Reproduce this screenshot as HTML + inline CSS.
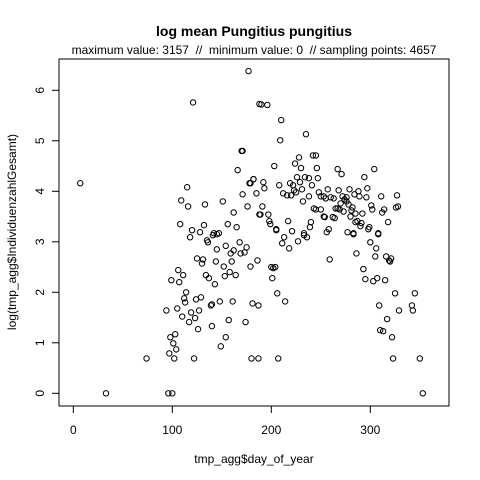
<!DOCTYPE html>
<html><head><meta charset="utf-8"><style>
html,body{margin:0;padding:0;background:#fff;}
svg{display:block;font-family:"Liberation Sans",Arial,sans-serif;}
</style></head><body>
<svg id="chart" width="480" height="480" viewBox="0 0 480 480" xmlns="http://www.w3.org/2000/svg">
<rect width="480" height="480" fill="#fff"/>
<text x="254" y="36" text-anchor="middle" font-size="14" font-weight="bold">log mean Pungitius pungitius</text>
<text x="254" y="54" text-anchor="middle" font-size="12">maximum value: 3157&#160;&#160;//&#160;&#160;minimum value: 0&#160;&#160;// sampling points: 4657</text>
<rect x="59" y="59" width="390" height="347" fill="none" stroke="#000" stroke-width="1"/>
<g id="xaxis"></g>
<g id="yaxis"></g>
<g id="points"></g>
<text x="254" y="463" text-anchor="middle" font-size="12">tmp_agg$day_of_year</text>
<text transform="translate(16,232) rotate(-90)" text-anchor="middle" font-size="12">log(tmp_agg$IndividuenzahlGesamt)</text>
</svg>
<script>
const xTicks = [0, 100, 200, 300];
const yTicks = [0, 1, 2, 3, 4, 5, 6];
const dayValues = [177,121,188,170,171,7,166,182,178,115,171,185,109,116,133,151,162,176,188,108,120,128,132,156,165,142,147,
190,196,210,235,209,242,245,228,224,203,230,246,267,304,271,182,226,234,238,247,294,192,179,229,208,219,222,241,193,231,257,268,279,297,223,225,212,216,220,248,288,284,238,250,253,260,263,255,272,276,274,276,289,296,311,327,232,270,278,191,301,302,243,245,250,265,267,269,273,282,281,314,312,326,328,189,197,285,292,253,254,262,264,280,198,199,217,240,239,285,287,290,291,318,205,221,299,298,258,256,277,283,233,308,
118,141,145,135,136,154,168,175,173,169,145,162,159,125,131,130,144,160,186,152,179,106,111,99,107,134,137,158,153,164,143,114,112,113,124,129,139,140,148,161,181,187,94,105,119,127,110,123,117,157,174,126,140,98,103,101,154,104,149,97,74,102,122,180,187,33,96,100,
205,213,233,236,227,211,218,283,308,300,306,286,305,316,321,319,320,200,202,204,259,201,293,295,303,307,315,206,214,325,345,309,342,329,343,317,310,313,322,207,323,350,353];
const logValues = [6.38,5.76,5.73,4.80,4.80,4.16,4.42,4.24,4.16,4.08,3.94,3.96,3.82,3.70,3.74,3.80,3.58,3.70,3.54,3.35,3.23,3.19,3.33,3.35,3.29,3.17,3.17,
5.72,5.71,5.41,5.13,5.01,4.71,4.71,4.67,4.55,4.50,4.46,4.46,4.44,4.44,4.34,4.24,4.28,4.28,4.26,4.26,4.28,4.18,4.16,4.18,4.12,4.16,4.12,4.12,4.06,4.04,4.04,4.02,4.04,4.06,4.02,3.98,3.96,3.92,3.92,3.98,4.00,3.94,3.90,3.90,3.90,3.88,3.86,3.86,3.90,3.88,3.84,3.80,3.90,3.88,3.90,3.92,3.80,3.76,3.74,3.70,3.72,3.64,3.66,3.64,3.64,3.66,3.66,3.64,3.60,3.68,3.62,3.64,3.58,3.68,3.70,3.54,3.54,3.56,3.56,3.50,3.49,3.49,3.47,3.50,3.41,3.35,3.41,3.39,3.29,3.39,3.41,3.31,3.37,3.39,3.25,3.21,3.29,3.25,3.25,3.19,3.19,3.17,3.17,3.17,
3.09,3.13,3.15,3.03,2.99,2.92,2.99,2.89,2.79,2.77,2.85,2.83,2.77,2.67,2.65,2.57,2.61,2.61,2.63,2.51,2.51,2.44,2.34,2.24,2.20,2.34,2.28,2.40,2.32,2.34,2.16,2.00,1.88,1.80,1.86,1.90,1.74,1.76,1.82,1.82,1.78,1.74,1.64,1.68,1.60,1.64,1.52,1.49,1.41,1.45,1.41,1.27,1.33,1.11,1.17,0.99,1.11,0.87,0.93,0.79,0.69,0.69,0.69,0.69,0.69,0,0,0,
3.23,3.09,3.13,3.09,3.01,2.97,2.87,3.15,3.15,2.99,2.87,2.77,2.71,2.71,2.67,2.63,2.61,2.50,2.48,2.50,2.65,2.28,2.46,2.26,2.22,2.28,2.24,1.98,1.82,1.98,1.98,1.74,1.74,1.64,1.64,1.47,1.25,1.23,1.11,0.69,0.69,0.69,0];

const NS = "http://www.w3.org/2000/svg";
function xScale(v){ return 73.3 + 0.99 * v; }
function yScale(v){ return 393.3 - 50.5 * v; }
function mk(tag, attrs){ const e = document.createElementNS(NS, tag); for (const k in attrs) e.setAttribute(k, attrs[k]); return e; }

const xg = document.getElementById('xaxis');
xg.appendChild(mk('line', {x1: xScale(xTicks[0]), x2: xScale(xTicks[xTicks.length-1]), y1: 406, y2: 406, stroke: '#000'}));
xTicks.forEach(t => {
  const l = mk('line', {x1: xScale(t), x2: xScale(t), y1: 406, y2: 413, stroke: '#000'});
  
  
  xg.appendChild(l);
  const tx = mk('text', {x: xScale(t), y: 434, 'text-anchor': 'middle', 'font-size': 12});
  
  
  tx.textContent = t;
  xg.appendChild(tx);
});
const yg = document.getElementById('yaxis');
yg.appendChild(mk('line', {x1: 59, x2: 59, y1: yScale(yTicks[0]), y2: yScale(yTicks[yTicks.length-1]), stroke: '#000'}));
yTicks.forEach(t => {
  const l = mk('line', {x1: 52, x2: 59, y1: yScale(t), y2: yScale(t), stroke: '#000'});
  
  
  yg.appendChild(l);
  const tx = mk('text', {transform: 'translate(44,' + yScale(t) + ') rotate(-90)', 'text-anchor': 'middle', 'font-size': 12});
  
  
  tx.textContent = t;
  yg.appendChild(tx);
});
const pg = document.getElementById('points');
for (let i = 0; i < dayValues.length; i++) {
  const c = mk('circle', {cx: xScale(dayValues[i]), cy: yScale(logValues[i]), r: 2.7, fill: 'none', stroke: '#000', 'stroke-width': 1});
  
  
  pg.appendChild(c);
}
</script>
</body></html>
